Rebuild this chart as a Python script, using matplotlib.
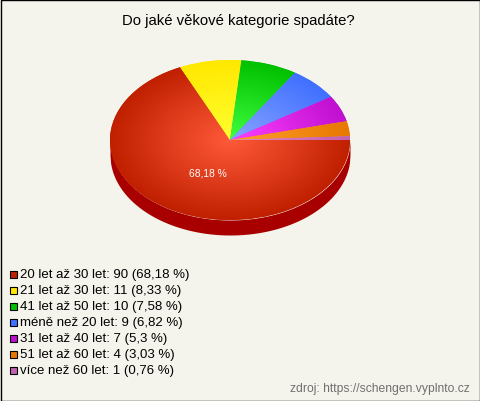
import numpy as np
import matplotlib
matplotlib.use("Agg")
import matplotlib.pyplot as plt
from matplotlib.colors import to_rgb
from matplotlib.patches import Rectangle

plt.rcParams["font.family"] = ["Liberation Sans", "DejaVu Sans"]

title = "Do jaké věkové kategorie spadáte?"
source = "zdroj: https://schengen.vyplnto.cz"
categories = ["20 let až 30 let", "21 let až 30 let", "41 let až 50 let", "méně než 20 let",
              "31 let až 40 let", "51 let až 60 let", "více než 60 let"]
values = [90, 11, 10, 9, 7, 4, 1]
percents = ["68,18", "8,33", "7,58", "6,82", "5,3", "3,03", "0,76"]
edge_colors = ["#c02000", "#ffe800", "#00c000", "#4070ff", "#c010d0", "#e87800", "#c060b0"]
center_colors = ["#ff5a3a", "#ffff30", "#40ff40", "#88a4ff", "#ff40ff", "#ffa030", "#e888c8"]
side_color = "#a80000"
bg_color = "#f5f4ec"

W, H = 480, 402
fig = plt.figure(figsize=(W / 100, H / 100), dpi=100, facecolor=bg_color)

# pie axes placed in pixels: center 230,141, rx 120, ry 80, depth 15
pad = 4
depth = 15 / 80
top = 61
ax = fig.add_axes([(110 - pad) / W, 1 - (top + 175 + pad) / H, (240 + 2 * pad) / W, (175 + 2 * pad) / H])
wedges, _ = ax.pie(values, startangle=0, counterclock=False, radius=1, colors=edge_colors)
ax.set_aspect("auto")

# side of the pie
xs = np.linspace(-1, 1, 400)
ys = -np.sqrt(1 - xs ** 2)
ax.fill_between(xs, ys, ys - depth, color=side_color, lw=0, zorder=0.5)

# radial gradient in each slice
gx, gy = np.meshgrid(np.linspace(-1, 1, 480), np.linspace(-1, 1, 320))
rad = np.clip(np.hypot(gx, gy), 0, 1)[..., None]
for wedge, c0, c1 in zip(wedges, center_colors, edge_colors):
    img = np.array(to_rgb(c0)) * (1 - rad) + np.array(to_rgb(c1)) * rad
    im = ax.imshow(img, extent=(-1, 1, -1, 1), origin="lower", aspect="auto", zorder=2, interpolation="bilinear")
    im.set_clip_path(wedge)
ax.set_xlim(-1 - pad / 120, 1 + pad / 120)
ax.set_ylim(-1 - depth - pad / 80, 1 + pad / 80)
ax.axis("off")

# overlay in pixel coordinates for texts
ov = fig.add_axes([0, 0, 1, 1], facecolor="none")
ov.set_xlim(0, W)
ov.set_ylim(H, 0)
ov.axis("off")

ov.text(238.5, 21, title, ha="center", va="center", fontsize=10.75, color="#000000")
ov.text(208, 173.5, percents[0] + " %", ha="center", va="center", fontsize=7.4, color="white")

for i, (cat, val, pct, col) in enumerate(zip(categories, values, percents, edge_colors)):
    y = 275 + i * 16
    ov.add_patch(Rectangle((9.5, y - 3.5), 7, 7, facecolor=col, edgecolor="black", lw=0.8))
    ov.text(20, y + 0.5, f"{cat}: {val} ({pct} %)", ha="left", va="center", fontsize=9.55, color="#000000")

ov.text(470, 389.5, source, ha="right", va="center", fontsize=8.7, color="#707070")

# border
ov.add_patch(Rectangle((0.5, 0.5), W - 1, H - 1, facecolor="none", edgecolor="black", lw=1))

fig.savefig("out.png", dpi=100, facecolor=bg_color)
